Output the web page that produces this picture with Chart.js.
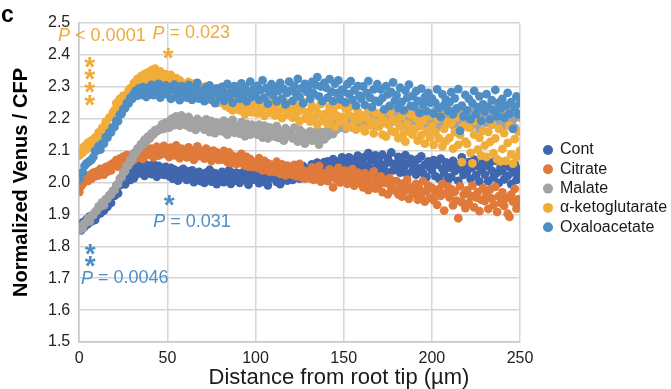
<!DOCTYPE html>
<html>
<head>
<meta charset="utf-8">
<script src="https://cdn.jsdelivr.net/npm/chart.js@4.4.1/dist/chart.umd.min.js"></script>
<style>
  html, body { margin: 0; padding: 0; background: #fff; }
  canvas { display: block; }
</style>
</head>
<body>
<canvas id="chart" width="671" height="389"></canvas>
<script>
// distance from root tip (µm), one reading per micrometre
const distance = [
  0,1,2,3,4,5,6,7,8,9,10,11,12,13,14,15,16,17,18,19,20,21,22,23,24,25,26,27,28,29,
  30,31,32,33,34,35,36,37,38,39,40,41,42,43,44,45,46,47,48,49,50,51,52,53,54,55,56,57,58,59,
  60,61,62,63,64,65,66,67,68,69,70,71,72,73,74,75,76,77,78,79,80,81,82,83,84,85,86,87,88,89,
  90,91,92,93,94,95,96,97,98,99,100,101,102,103,104,105,106,107,108,109,110,111,112,113,114,115,116,117,118,119,
  120,121,122,123,124,125,126,127,128,129,130,131,132,133,134,135,136,137,138,139,140,141,142,143,144,145,146,147,148,149,
  150,151,152,153,154,155,156,157,158,159,160,161,162,163,164,165,166,167,168,169,170,171,172,173,174,175,176,177,178,179,
  180,181,182,183,184,185,186,187,188,189,190,191,192,193,194,195,196,197,198,199,200,201,202,203,204,205,206,207,208,209,
  210,211,212,213,214,215,216,217,218,219,220,221,222,223,224,225,226,227,228,229,230,231,232,233,234,235,236,237,238,239,
  240,241,242,243,244,245,246,247,248,249,250
];

const seriesNames = ['Cont', 'Citrate', 'Malate', 'α-ketoglutarate', 'Oxaloacetate'];
const seriesColors = ['#4066AE', '#E07A3B', '#A3A3A3', '#F1AD3A', '#4F8EC4'];

const cont = [
  1.866,1.850,1.875,1.861,1.884,1.870,1.894,1.878,1.899,1.883,
  1.898,1.917,1.903,1.926,1.912,1.939,1.924,1.950,1.936,1.962,
  1.958,1.980,1.966,1.992,1.998,2.008,1.994,2.018,2.024,2.008,
  2.030,2.014,2.044,2.027,2.053,2.031,2.046,2.021,2.056,2.037,
  2.047,2.026,2.058,2.038,2.018,2.052,2.033,2.045,2.024,2.049,
  2.034,2.020,2.046,2.012,2.040,2.025,2.006,2.036,2.017,2.043,
  2.024,2.008,2.035,2.016,2.038,2.001,2.028,2.011,2.033,2.004,
  2.022,1.999,2.031,2.012,2.040,2.003,2.018,2.029,1.995,2.016,
  2.011,2.033,2.001,2.025,2.013,2.039,1.996,2.020,2.006,2.031,
  2.016,1.999,2.029,2.009,2.038,2.018,1.993,2.023,2.010,2.032,
  2.008,2.027,1.998,2.017,2.034,2.002,2.021,1.991,2.013,2.030,
  2.018,2.035,2.002,2.024,1.995,2.031,2.012,2.041,2.006,2.022,
  2.029,2.008,2.037,2.020,2.046,2.012,2.036,2.051,2.021,2.040,
  2.043,2.021,2.057,2.030,2.050,2.062,2.032,2.053,2.024,2.064,
  2.041,2.066,2.034,2.054,2.073,2.043,2.026,2.065,2.049,2.079,
  2.051,2.069,2.037,2.079,2.058,2.030,2.072,2.054,2.084,2.043,
  2.062,2.036,2.080,2.055,2.092,2.044,2.070,2.031,2.085,2.058,
  2.067,2.040,2.087,2.055,2.033,2.076,2.063,2.094,2.038,2.058,
  2.052,2.080,2.031,2.066,2.045,2.086,2.026,2.060,2.074,2.037,
  2.060,2.025,2.073,2.044,2.082,2.030,2.056,2.017,2.066,2.047,
  2.038,2.070,2.020,2.056,2.013,2.075,2.043,2.029,2.063,2.008,
  2.047,2.017,2.068,2.036,2.057,2.005,2.042,2.079,2.024,2.051,
  2.034,2.064,2.011,2.046,2.072,2.022,2.052,2.003,2.040,2.066,
  2.025,2.053,2.004,2.062,2.037,2.016,2.069,2.030,1.999,2.048,
  2.036,2.010,2.060,2.021,2.049,1.995,2.032,2.057,2.008,2.041,
  2.024
];

const citrate = [
  1.970,1.988,1.996,2.008,2.015,2.005,2.024,2.012,2.031,2.019,
  2.034,2.022,2.043,2.030,2.025,2.048,2.034,2.053,2.038,2.060,
  2.056,2.070,2.050,2.075,2.060,2.081,2.064,2.086,2.068,2.080,
  2.087,2.071,2.095,2.078,2.101,2.083,2.074,2.098,2.085,2.104,
  2.088,2.106,2.079,2.099,2.112,2.084,2.101,2.089,2.115,2.092,
  2.099,2.080,2.109,2.092,2.085,2.116,2.095,2.076,2.106,2.089,
  2.096,2.079,2.110,2.085,2.100,2.071,2.093,2.113,2.083,2.098,
  2.091,2.075,2.106,2.083,2.097,2.068,2.100,2.080,2.094,2.071,
  2.088,2.072,2.099,2.076,2.065,2.094,2.061,2.083,2.071,2.058,
  2.081,2.061,2.090,2.066,2.053,2.080,2.050,2.073,2.049,2.064,
  2.063,2.046,2.076,2.053,2.038,2.068,2.043,2.060,2.034,2.055,
  2.053,2.033,2.065,2.042,2.027,2.057,2.040,2.022,2.053,2.033,
  2.045,2.024,2.055,2.020,2.041,2.058,2.016,2.038,2.012,2.033,
  2.032,2.013,2.047,2.008,2.035,2.022,2.051,2.003,2.029,2.015,
  2.028,2.004,2.041,2.017,1.985,2.032,2.010,2.046,2.000,2.021,
  2.017,2.037,1.996,2.025,2.007,2.042,1.990,2.018,2.031,1.999,
  2.014,1.985,2.029,2.003,1.976,2.021,1.996,2.034,1.981,2.008,
  1.992,2.019,1.970,2.008,1.998,1.963,2.014,1.983,2.003,1.975,
  2.004,1.963,1.988,1.956,1.997,1.975,2.009,1.949,1.985,1.970,
  1.965,1.996,1.946,1.980,1.958,2.004,1.940,1.973,1.990,1.952,
  1.983,1.945,1.970,1.930,1.979,1.958,1.996,1.912,1.966,1.988,
  1.953,1.979,1.928,1.971,1.943,1.888,1.988,1.938,1.962,1.920,
  1.975,1.936,1.958,1.990,1.922,1.953,1.970,1.910,1.946,1.982,
  1.942,1.964,1.917,1.978,1.950,1.930,1.986,1.908,1.957,1.936,
  1.969,1.927,1.951,1.902,1.892,1.962,1.940,1.980,1.918,1.947,
  1.928
];

const malate = [
  1.851,1.864,1.856,1.872,1.875,1.887,1.878,1.896,1.898,1.908,
  1.912,1.925,1.924,1.938,1.929,1.948,1.949,1.960,1.962,1.974,
  1.976,1.992,1.995,2.012,2.017,2.032,2.036,2.053,2.056,2.071,
  2.074,2.092,2.091,2.106,2.107,2.120,2.119,2.134,2.128,2.144,
  2.138,2.154,2.150,2.164,2.160,2.168,2.166,2.182,2.168,2.188,
  2.186,2.172,2.197,2.201,2.180,2.207,2.192,2.178,2.210,2.185,
  2.196,2.178,2.206,2.172,2.193,2.184,2.165,2.199,2.174,2.190,
  2.186,2.166,2.198,2.172,2.158,2.192,2.174,2.155,2.188,2.168,
  2.180,2.160,2.194,2.166,2.150,2.186,2.170,2.196,2.156,2.177,
  2.176,2.153,2.189,2.162,2.145,2.184,2.168,2.150,2.181,2.160,
  2.171,2.150,2.181,2.158,2.141,2.178,2.160,2.138,2.173,2.153,
  2.165,2.144,2.177,2.140,2.162,2.152,2.131,2.170,2.145,2.158,
  2.160,2.138,2.172,2.144,2.128,2.166,2.142,2.156,2.122,2.150,
  2.142,2.160,2.131,2.153,2.136,2.164,2.119,2.147,2.157,2.135,
  2.160,2.146,2.180,2.165,2.152,2.186,2.166,2.193,2.172,2.182,
  2.187,2.168,2.199,2.179,2.204,2.172,2.190,2.208,2.180,2.196,
  2.188,2.208,2.180,2.213,2.191,2.219,2.196,2.181,2.214,2.200,
  2.204,2.184,2.221,2.194,2.226,2.206,2.185,2.218,2.199,2.230,
  2.207,2.184,2.224,2.199,2.220,2.180,2.210,2.231,2.191,2.214,
  2.204,2.226,2.184,2.212,2.193,2.234,2.200,2.179,2.220,2.196,
  2.206,2.181,2.226,2.192,2.212,2.175,2.217,2.198,2.237,2.186,
  2.202,2.224,2.179,2.209,2.190,2.231,2.183,2.214,2.197,2.221,
  2.193,2.216,2.174,2.205,2.232,2.185,2.211,2.168,2.200,2.226,
  2.209,2.186,2.230,2.201,2.181,2.220,2.206,2.242,2.190,2.214,
  2.203,2.227,2.180,2.209,2.190,2.235,2.196,2.172,2.218,2.205,
  2.211
];

const ketoglutarate = [
  2.084,2.105,2.094,2.114,2.103,2.125,2.112,2.132,2.120,2.141,
  2.138,2.157,2.146,2.171,2.170,2.190,2.178,2.203,2.204,2.219,
  2.227,2.249,2.235,2.262,2.246,2.272,2.270,2.268,2.289,2.296,
  2.294,2.312,2.299,2.325,2.307,2.333,2.316,2.340,2.325,2.345,
  2.333,2.352,2.325,2.357,2.340,2.320,2.348,2.331,2.313,2.340,
  2.331,2.309,2.337,2.315,2.300,2.327,2.296,2.320,2.289,2.310,
  2.306,2.286,2.315,2.292,2.278,2.310,2.286,2.303,2.273,2.300,
  2.296,2.274,2.302,2.268,2.289,2.258,2.285,2.254,2.280,2.250,
  2.272,2.250,2.280,2.240,2.263,2.234,2.260,2.226,2.256,2.238,
  2.251,2.226,2.258,2.233,2.214,2.249,2.225,2.264,2.220,2.240,
  2.241,2.217,2.253,2.227,2.262,2.209,2.238,2.248,2.218,2.257,
  2.235,2.210,2.247,2.222,2.259,2.202,2.231,2.252,2.213,2.238,
  2.231,2.203,2.248,2.214,2.237,2.192,2.226,2.252,2.200,2.220,
  2.220,2.191,2.240,2.203,2.229,2.182,2.215,2.246,2.193,2.212,
  2.216,2.183,2.238,2.201,2.224,2.175,2.210,2.243,2.189,2.206,
  2.193,2.232,2.173,2.211,2.238,2.180,2.202,2.166,2.223,2.198,
  2.210,2.170,2.160,2.203,2.228,2.179,2.192,2.154,2.218,2.186,
  2.175,2.210,2.150,2.192,2.144,2.182,2.220,2.161,2.199,2.158,
  2.189,2.139,2.175,2.208,2.153,2.128,2.184,2.166,2.213,2.150,
  2.166,2.201,2.131,2.177,2.148,2.192,2.122,2.161,2.207,2.141,
  2.176,2.118,2.157,2.199,2.138,2.213,2.113,2.168,2.130,2.189,
  2.140,2.186,2.106,2.158,2.204,2.118,2.149,2.064,2.177,2.128,
  2.121,2.172,2.093,2.060,2.150,2.193,2.103,2.140,2.084,2.162,
  2.116,2.080,2.159,2.127,2.184,2.092,2.138,2.073,2.168,2.066,
  2.105,2.155,2.068,2.124,2.178,2.088,2.059,2.136,2.080,2.160,
  2.100
];

const oxaloacetate = [
  2.010,2.030,2.032,2.052,2.059,2.063,2.068,2.072,2.080,2.099,
  2.100,2.114,2.103,2.122,2.122,2.142,2.141,2.156,2.157,2.173,
  2.174,2.193,2.192,2.212,2.215,2.230,2.233,2.249,2.248,2.266,
  2.262,2.278,2.287,2.272,2.295,2.275,2.299,2.280,2.268,2.297,
  2.290,2.306,2.274,2.299,2.280,2.309,2.266,2.296,2.278,2.304,
  2.276,2.298,2.262,2.291,2.307,2.269,2.285,2.258,2.302,2.280,
  2.292,2.266,2.306,2.282,2.259,2.299,2.274,2.312,2.263,2.288,
  2.282,2.255,2.298,2.272,2.304,2.260,2.283,2.249,2.295,2.276,
  2.268,2.300,2.256,2.282,2.309,2.268,2.287,2.250,2.302,2.278,
  2.289,2.262,2.311,2.274,2.299,2.254,2.285,2.316,2.268,2.292,
  2.278,2.303,2.259,2.290,2.320,2.266,2.296,2.247,2.283,2.308,
  2.274,2.299,2.254,2.287,2.312,2.263,2.293,2.245,2.281,2.316,
  2.288,2.256,2.303,2.278,2.325,2.268,2.295,2.248,2.309,2.284,
  2.292,2.262,2.315,2.279,2.306,2.330,2.270,2.301,2.255,2.312,
  2.297,2.266,2.324,2.285,2.255,2.310,2.280,2.320,2.261,2.291,
  2.285,2.251,2.308,2.277,2.318,2.259,2.289,2.241,2.302,2.272,
  2.263,2.301,2.243,2.281,2.318,2.266,2.236,2.292,2.256,2.308,
  2.253,2.292,2.265,2.229,2.302,2.276,2.240,2.283,2.314,2.257,
  2.274,2.234,2.297,2.253,2.226,2.288,2.265,2.307,2.240,2.271,
  2.238,2.286,2.256,2.218,2.294,2.245,2.268,2.224,2.281,2.250,
  2.264,2.216,2.250,2.292,2.233,2.206,2.276,2.243,2.260,2.225,
  2.251,2.283,2.214,2.264,2.232,2.293,2.162,2.241,2.207,2.275,
  2.226,2.262,2.199,2.249,2.287,2.214,2.236,2.270,2.193,2.245,
  2.222,2.277,2.238,2.198,2.258,2.226,2.290,2.207,2.250,2.232,
  2.262,2.203,2.241,2.281,2.215,2.252,2.168,2.236,2.270,2.214,
  2.249
];

const seriesValues = [cont, citrate, malate, ketoglutarate, oxaloacetate];

// significance labels, placed in data units (distance, ratio)
const orange = '#F0A93B';
const blue = '#4F8DC5';
const pLabels = [
  { d: -12, v: 2.458, text: ' < 0.0001', color: orange },
  { d: 41.5, v: 2.467, text: ' = 0.023', color: orange },
  { d: 42, v: 1.877, text: ' = 0.031', color: blue },
  { d: 1, v: 1.699, text: ' = 0.0046', color: blue }
];
const stars = [
  { d: 6, v: 2.379, color: orange }, { d: 6, v: 2.339, color: orange },
  { d: 6, v: 2.300, color: orange }, { d: 6, v: 2.259, color: orange },
  { d: 50.5, v: 2.405, color: orange },
  { d: 51, v: 1.946, color: blue },
  { d: 6.2, v: 1.793, color: blue }, { d: 6.2, v: 1.753, color: blue }
];

const FONT = '"Liberation Sans", Arial, Helvetica, sans-serif';
Chart.defaults.font.family = FONT;

const extras = {
  id: 'extras',
  afterDraw(chart) {
    const ctx = chart.ctx;
    const xs = chart.scales.x, ys = chart.scales.y;
    ctx.save();

    // panel letter
    ctx.fillStyle = '#000';
    ctx.font = 'bold 23px ' + FONT;
    ctx.textAlign = 'left';
    ctx.textBaseline = 'alphabetic';
    ctx.fillText('c', 1, 22);

    // x axis title, centred on the whole figure like the original
    ctx.fillStyle = '#1a1a1a';
    ctx.font = '22px ' + FONT;
    ctx.textAlign = 'center';
    ctx.textBaseline = 'middle';
    ctx.fillText('Distance from root tip (µm)', 339, 378);

    // P values
    pLabels.forEach(p => {
      const px = xs.getPixelForValue(p.d), py = ys.getPixelForValue(p.v);
      ctx.fillStyle = p.color;
      ctx.textAlign = 'left';
      ctx.textBaseline = 'middle';
      ctx.font = 'italic 18px ' + FONT;
      ctx.fillText('P', px, py);
      const w = ctx.measureText('P').width;
      ctx.font = '18px ' + FONT;
      ctx.fillText(p.text, px + w, py);
    });

    // asterisks
    ctx.font = 'bold 28px ' + FONT;
    ctx.textAlign = 'center';
    ctx.textBaseline = 'alphabetic';
    stars.forEach(s => {
      ctx.fillStyle = s.color;
      ctx.fillText('*', xs.getPixelForValue(s.d), ys.getPixelForValue(s.v) + 14);
    });

    // legend
    ctx.font = '16px ' + FONT;
    ctx.textAlign = 'left';
    ctx.textBaseline = 'middle';
    chart.data.datasets.forEach((ds, i) => {
      const cy = 150 + i * 19.3;
      ctx.beginPath();
      ctx.arc(548, cy, 5, 0, Math.PI * 2);
      ctx.fillStyle = ds.backgroundColor;
      ctx.fill();
      ctx.fillStyle = '#1a1a1a';
      ctx.fillText(ds.label, 560, cy);
    });

    ctx.restore();
  }
};

const gridColor = '#D5D5D5';

new Chart(document.getElementById('chart'), {
  type: 'scatter',
  data: {
    datasets: seriesNames.map((name, i) => ({
      label: name,
      data: distance.map((d, j) => ({ x: d, y: seriesValues[i][j] })),
      backgroundColor: seriesColors[i],
      borderWidth: 0,
      pointRadius: 4.4,
      pointHoverRadius: 4.4,
      order: seriesNames.length - i
    }))
  },
  options: {
    responsive: false,
    animation: false,
    events: [],
    layout: { padding: { left: 0, right: 151, top: 23, bottom: 13.8 } },
    plugins: {
      legend: { display: false },
      tooltip: { enabled: false }
    },
    scales: {
      x: {
        type: 'linear',
        min: 0,
        max: 250,
        ticks: { stepSize: 50, padding: 7, color: '#222', font: { size: 16 } },
        grid: { color: gridColor, lineWidth: 1.5, drawTicks: false },
        border: { color: '#C8C8C8', width: 1.5 }
      },
      y: {
        min: 1.5,
        max: 2.5,
        ticks: {
          stepSize: 0.1,
          padding: 9,
          color: '#222',
          font: { size: 16 },
          callback: v => v.toFixed(1)
        },
        grid: { color: gridColor, lineWidth: 1.5, drawTicks: false },
        border: { color: '#C8C8C8', width: 1.5 },
        title: {
          display: true,
          text: 'Normalized Venus / CFP',
          color: '#000',
          font: { size: 20, weight: 'bold' },
          padding: { top: 9, bottom: 6 }
        }
      }
    }
  },
  plugins: [extras]
});
</script>
</body>
</html>
